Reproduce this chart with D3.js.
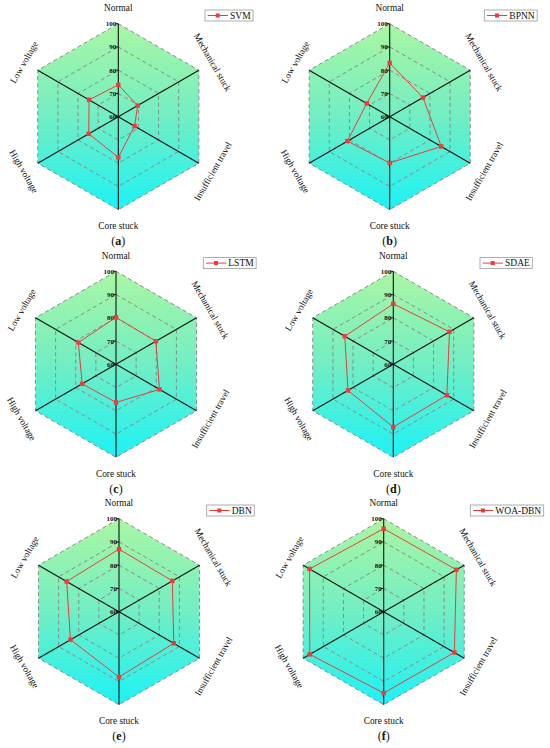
<!DOCTYPE html>
<html><head><meta charset="utf-8">
<script src="https://cdn.jsdelivr.net/npm/d3@7"></script>
<style>body{margin:0;background:#fff;} svg{display:block;}</style>
</head><body>
<svg id="chart" width="550" height="748"></svg>
<script>
// ---- data ----
const categories = ["Normal", "Mechanical stuck", "Insufficient travel", "Core stuck", "High voltage", "Low voltage"];
const models = ["SVM", "BPNN", "LSTM", "SDAE", "DBN", "WOA-DBN"];
const panelLetters = ["a", "b", "c", "d", "e", "f"];
const svmValues    = [73.7, 69.6, 68.1, 77.5, 74.7, 74.5];
const bpnnValues   = [83.1, 76.5, 85.6, 79.9, 81.0, 71.4];
const lstmValues   = [80.2, 79.8, 81.6, 76.4, 76.8, 78.7];
const sdaeValues   = [86.0, 87.9, 86.6, 87.0, 82.5, 84.1];
const dbnValues    = [86.9, 86.5, 87.2, 88.1, 84.1, 86.0];
const woaDbnValues = [95.7, 96.1, 95.1, 95.0, 96.7, 96.8];
const tickValues = [60, 70, 80, 90, 100];
const seriesValues = [svmValues, bpnnValues, lstmValues, sdaeValues, dbnValues, woaDbnValues];

// ---- layout ----
const panels = [
  {cx: 118.3, cy: 116.7, legX: 205},
  {cx: 389.7, cy: 116.7, legX: 484.3},
  {cx: 116.0, cy: 364.3, legX: 203.3},
  {cx: 393.3, cy: 364.3, legX: 480},
  {cx: 119.0, cy: 611.7, legX: 206.7},
  {cx: 383.7, cy: 611.7, legX: 470.3}
];
const R = 93;
const serif = "'Liberation Serif', 'Times New Roman', serif";
const red = "#f03a3a";

const svg = d3.select("#chart");
const defs = svg.append("defs");
const grad = defs.append("linearGradient").attr("id", "bg").attr("x1", 0).attr("y1", 0).attr("x2", 0).attr("y2", 1);
grad.append("stop").attr("offset", "0%").attr("stop-color", "#aaf6a2");
grad.append("stop").attr("offset", "50%").attr("stop-color", "#72eec4");
grad.append("stop").attr("offset", "100%").attr("stop-color", "#1cf2f6");

const r = d3.scaleLinear().domain([60, 100]).range([0, R]);
const angle = d3.scalePoint().domain(categories).range([0, 300]); // degrees clockwise from top

function pt(cat, v) {
  const a = angle(cat) * Math.PI / 180;
  return [r(v) * Math.sin(a), -r(v) * Math.cos(a)];
}

panels.forEach((p, i) => {
  const g = svg.append("g").attr("transform", `translate(${p.cx},${p.cy})`);
  const hex = v => categories.map(c => pt(c, v));
  const line = d3.line().curve(d3.curveLinearClosed);

  // background
  g.append("path").attr("d", line(hex(100))).attr("fill", "url(#bg)").attr("stroke", "none");

  // dashed grid rings
  tickValues.filter(t => t > 60).forEach(t => {
    g.append("path").attr("d", line(hex(t)))
      .attr("fill", "none").attr("stroke", "#8a8a8a").attr("stroke-width", 1)
      .attr("stroke-dasharray", "4,3");
  });

  // axes
  categories.forEach(c => {
    const [x, y] = pt(c, 100);
    g.append("line").attr("x1", 0).attr("y1", 0).attr("x2", x).attr("y2", y)
      .attr("stroke", "#111").attr("stroke-width", 1.1);
  });

  // ticks on the Normal axis
  tickValues.forEach(t => {
    const y = -r(t);
    g.append("line").attr("x1", -3).attr("x2", 0).attr("y1", y).attr("y2", y)
      .attr("stroke", "#111").attr("stroke-width", 1);
    g.append("text").attr("x", -2).attr("y", y).attr("dy", "0.35em")
      .attr("text-anchor", "end").attr("font-family", serif).attr("font-weight", "bold")
      .attr("font-size", 7).attr("fill", "#111").text(t);
  });

  // category labels
  categories.forEach(c => {
    const deg = angle(c);
    const a = deg * Math.PI / 180;
    const lr = R + 16;
    const x = lr * Math.sin(a), y = -lr * Math.cos(a);
    let rot = deg; // tangential
    if (rot > 90 && rot < 270) rot -= 180;
    if (rot >= 270) rot -= 360;
    g.append("text").attr("transform", `translate(${x},${y}) rotate(${rot})`)
      .attr("text-anchor", "middle").attr("dy", "0.35em")
      .attr("font-family", serif).attr("font-size", 9.3).attr("fill", "#111").text(c);
  });

  // series
  const vals = seriesValues[i];
  const pts = categories.map((c, k) => pt(c, vals[k]));
  g.append("path").attr("d", line(pts)).attr("fill", "none").attr("stroke", red).attr("stroke-width", 1);
  g.selectAll("rect.m").data(pts).enter().append("rect")
    .attr("x", d => d[0] - 2.2).attr("y", d => d[1] - 2.2).attr("width", 4.4).attr("height", 4.4)
    .attr("fill", red);

  // panel letter
  const lt = svg.append("text").attr("x", p.cx).attr("y", p.cy + 124).attr("dy", "0.35em")
    .attr("text-anchor", "middle").attr("font-family", serif).attr("font-size", 12).attr("fill", "#111");
  lt.append("tspan").text("(");
  lt.append("tspan").attr("font-weight", "bold").text(panelLetters[i]);
  lt.append("tspan").text(")");

  // legend
  const lg = svg.append("g").attr("transform", `translate(${p.legX},${p.cy - 106.7})`);
  const txt = lg.append("text").attr("x", 25).attr("y", 5.5).attr("dy", "0.35em")
    .attr("font-family", serif).attr("font-size", 9.5).attr("fill", "#111").text(models[i]);
  const tw = txt.node().getComputedTextLength();
  lg.insert("rect", "text").attr("x", 0).attr("y", 0).attr("width", 25 + tw + 2.5).attr("height", 11)
    .attr("fill", "#fff").attr("stroke", "#9a9a9a").attr("stroke-width", 0.8);
  lg.append("line").attr("x1", 2.7).attr("x2", 23).attr("y1", 5.5).attr("y2", 5.5)
    .attr("stroke", red).attr("stroke-width", 1);
  lg.append("rect").attr("x", 12.7 - 2).attr("y", 5.5 - 2).attr("width", 4).attr("height", 4).attr("fill", red);
});
</script>
</body></html>
